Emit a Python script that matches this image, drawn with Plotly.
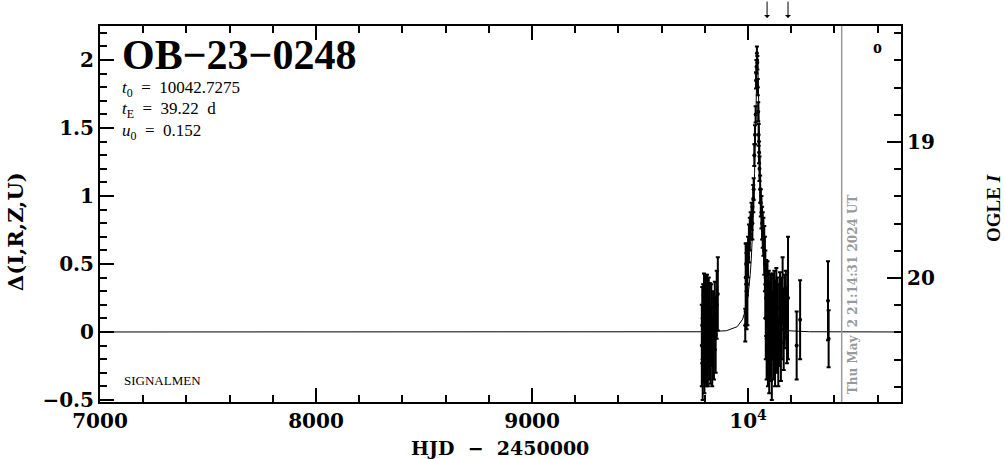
import plotly.graph_objects as go

# ---------------- data ----------------
event_name = "OB−23−0248"
t0_text = "10042.7275"
tE_text = "39.22 d"
u0_text = "0.152"
now_text = "Thu May&nbsp;&nbsp;2 21:14:31 2024 UT"
now_hjd = 10433.4
arrow_hjd = [10088, 10185]
legend_o_hjd = 10597
legend_o_delta = 2.095

obs_t = [9786, 9788, 9790, 9792, 9794, 9796, 9798, 9800, 9802, 9804, 9806, 9808, 9810, 9812,
         9814, 9816, 9818, 9820, 9823, 9826, 9830, 9834, 9838, 9842, 9846, 9850, 9855, 9860,
         9987, 9989, 9991, 9993, 9995, 9997, 10000, 10004, 10008, 10012, 10016, 10020, 10024,
         10026, 10029, 10032, 10035, 10037, 10039, 10041, 10043, 10045, 10047, 10049, 10051,
         10053, 10056, 10059, 10062, 10065, 10068, 10071, 10075, 10078,
         10080, 10082, 10084, 10086, 10088, 10090, 10092, 10094, 10096, 10098, 10100, 10102,
         10104, 10106, 10108, 10110, 10113, 10116, 10119, 10122, 10125, 10128, 10131, 10134,
         10137, 10140, 10144, 10148, 10152, 10156, 10160, 10165, 10170, 10175, 10180,
         10185, 10225, 10241, 10370, 10373]
obs_d = [-0.10, 0.05, -0.20, 0.10, -0.05, 0.15, -0.15, 0.02, 0.20, -0.08, 0.08, -0.12, 0.12, 0.00,
         -0.18, 0.05, 0.15, -0.05, 0.10, -0.10, 0.05, -0.15, 0.08, -0.05, 0.12, -0.02, 0.20, 0.28,
         0.05, 0.40, 0.50, 0.30, 0.45, 0.35, 0.55, 0.65, 0.72, 0.78, 0.85, 0.80, 0.98,
         1.05, 1.30, 1.45, 1.60, 1.85, 1.95, 2.05, 1.98, 1.80, 1.62, 1.45, 1.32,
         1.20, 1.05, 0.95, 0.88, 0.80, 0.75, 0.70, 0.60, 0.50,
         0.35, 0.10, 0.25, -0.05, 0.15, 0.30, -0.10, 0.05, 0.20, -0.15, 0.10, 0.00,
         0.18, -0.08, 0.12, -0.20, 0.05, 0.15, -0.05, 0.20, -0.12, 0.08, 0.25, -0.02,
         0.10, -0.15, 0.05, 0.18, -0.08, 0.10, 0.30, 0.02, 0.15, 0.20, 0.05,
         0.25, -0.10, 0.09, 0.23, -0.05]
obs_e = [0.30, 0.28, 0.30, 0.25, 0.32, 0.28, 0.30, 0.25, 0.22, 0.30, 0.26, 0.28, 0.30, 0.25,
         0.22, 0.28, 0.25, 0.30, 0.26, 0.28, 0.30, 0.25, 0.22, 0.30, 0.25, 0.28, 0.25, 0.27,
         0.12, 0.25, 0.15, 0.28, 0.18, 0.30, 0.15, 0.14, 0.12, 0.10, 0.10, 0.12, 0.10,
         0.08, 0.08, 0.07, 0.06, 0.06, 0.05, 0.05, 0.05, 0.06, 0.07, 0.08, 0.08,
         0.09, 0.10, 0.10, 0.12, 0.12, 0.13, 0.14, 0.18, 0.20,
         0.25, 0.30, 0.28, 0.30, 0.25, 0.22, 0.30, 0.28, 0.25, 0.30, 0.27, 0.30,
         0.25, 0.28, 0.30, 0.30, 0.25, 0.28, 0.30, 0.25, 0.28, 0.30, 0.22, 0.28,
         0.30, 0.25, 0.30, 0.26, 0.28, 0.30, 0.25, 0.30, 0.27, 0.25, 0.28,
         0.45, 0.25, 0.29, 0.29, 0.21]

model_t = [7000, 9800, 9900, 9950, 9975, 9990, 10000, 10005, 10010, 10015, 10020, 10025, 10030,
           10035, 10038, 10040, 10042.73, 10045.46, 10047.46, 10050.46, 10055.46, 10060.46,
           10065.46, 10070.46, 10075.46, 10080.46, 10085.46, 10095.46, 10110.46, 10135.46,
           10185.46, 10285, 10705]
model_d = [0, 0.0015, 0.009, 0.039, 0.094, 0.173, 0.267, 0.335, 0.423, 0.538, 0.689, 0.891, 1.165,
           1.535, 1.795, 1.953, 2.055, 1.953, 1.795, 1.535, 1.165, 0.891,
           0.689, 0.538, 0.423, 0.335, 0.267, 0.173, 0.094, 0.039,
           0.009, 0.0015, 0]

x_range = [7000, 10708]
y_range = [-0.515, 2.25]
ogle_base = 20.397
x_tickvals = [7000, 8000, 9000, 10000]
x_ticktext = ["7000", "8000", "9000", "10<sup>4</sup>"]
y_tickvals = [-0.5, 0, 0.5, 1, 1.5, 2]
y_ticktext = ["−0.5", "0", "0.5", "1", "1.5", "2"]
y2_tickvals = [19, 20]

SERIF = "Liberation Serif"
DSERIF = "DejaVu Serif"
ML, MR, MT, MB = 100, 103, 26, 57
W, H = 1004, 459
PW, PH = W - ML - MR, H - MT - MB


def px_to_paper(xp, yp):
    return (xp - ML) / PW, (H - MB - yp) / PH


fig = go.Figure()
fig.add_trace(go.Scatter(x=model_t, y=model_d, mode="lines",
                         line=dict(color="black", width=1), showlegend=False))
fig.add_trace(go.Scatter(x=obs_t, y=obs_d, mode="markers",
                         marker=dict(color="black", size=4),
                         error_y=dict(type="data", array=obs_e, color="black",
                                      thickness=2, width=2),
                         showlegend=False))
# invisible trace to activate right axis
fig.add_trace(go.Scatter(x=[x_range[0]], y=[ogle_base], yaxis="y2", mode="markers",
                         marker=dict(opacity=0), showlegend=False, hoverinfo="skip"))

fig.add_shape(type="line", xref="x", yref="paper", x0=now_hjd, x1=now_hjd, y0=0, y1=1,
              line=dict(color="#999999", width=1.5))

tickfont = dict(family=DSERIF, size=20, color="black", weight="bold")

fig.update_layout(
    width=W, height=H,
    margin=dict(l=ML, r=MR, t=MT, b=MB, autoexpand=False),
    plot_bgcolor="white", paper_bgcolor="white",
    xaxis=dict(range=x_range, showgrid=False, zeroline=False, showline=True,
               automargin=False,
               linecolor="black", linewidth=2, mirror="ticks",
               ticks="inside", ticklen=14, tickwidth=2, tickcolor="black",
               tickvals=x_tickvals, ticktext=x_ticktext, tickfont=tickfont,
               minor=dict(dtick=200, tick0=7000, ticks="inside", ticklen=7,
                          tickwidth=2, tickcolor="black")),
    yaxis=dict(range=y_range, showgrid=False, zeroline=False, showline=True,
               automargin=False,
               linecolor="black", linewidth=2,
               ticks="inside", ticklen=14, tickwidth=2, tickcolor="black",
               tickvals=y_tickvals, ticktext=y_ticktext, tickfont=tickfont,
               minor=dict(dtick=0.1, tick0=0, ticks="inside", ticklen=7,
                          tickwidth=2, tickcolor="black")),
    yaxis2=dict(overlaying="y", side="right",
                range=[ogle_base - y_range[0], ogle_base - y_range[1]],
                automargin=False,
                showgrid=False, zeroline=False, showline=True,
                linecolor="black", linewidth=2,
                ticks="inside", ticklen=14, tickwidth=2, tickcolor="black",
                tickvals=y2_tickvals, tickfont=tickfont,
                minor=dict(dtick=0.2, tick0=19, ticks="inside", ticklen=7,
                           tickwidth=2, tickcolor="black")),
)

ann = []
ann.append(dict(x=7092, y=2.04, xref="x", yref="y", xanchor="left", yanchor="middle",
                text=event_name, showarrow=False,
                font=dict(family=SERIF, size=42, color="black", weight="bold")))
stat_font = dict(family=SERIF, size=17, color="black")
ann.append(dict(x=7092, y=1.79, xref="x", yref="y", xanchor="left", yanchor="middle",
                text="<i>t</i><sub>0</sub>&nbsp;&nbsp;=&nbsp;&nbsp;" + t0_text,
                showarrow=False, font=stat_font))
ann.append(dict(x=7092, y=1.63, xref="x", yref="y", xanchor="left", yanchor="middle",
                text="<i>t</i><sub>E</sub>&nbsp;&nbsp;=&nbsp;&nbsp;" + tE_text.replace(" ", "&nbsp;&nbsp;"),
                showarrow=False, font=stat_font))
ann.append(dict(x=7092, y=1.47, xref="x", yref="y", xanchor="left", yanchor="middle",
                text="<i>u</i><sub>0</sub>&nbsp;&nbsp;=&nbsp;&nbsp;" + u0_text,
                showarrow=False, font=stat_font))
ann.append(dict(x=7102, y=-0.355, xref="x", yref="y", xanchor="left", yanchor="middle",
                text="SIGNALMEN", showarrow=False,
                font=dict(family=SERIF, size=13, color="black")))
ann.append(dict(x=now_hjd + 12, y=-0.47, xref="x", yref="y", xanchor="left", yanchor="bottom",
                text=now_text, textangle=-90, showarrow=False,
                font=dict(family=DSERIF, size=12, color="#999999", weight="bold")))
ann.append(dict(x=legend_o_hjd, y=legend_o_delta, xref="x", yref="y",
                xanchor="center", yanchor="middle", text="o", showarrow=False,
                font=dict(family=SERIF, size=18, color="black", weight="bold")))
for ah in arrow_hjd:
    ann.append(dict(x=ah, y=1.021, xref="x", yref="paper", ax=0, ay=-18, text="",
                    showarrow=True, arrowhead=1, arrowsize=1, arrowwidth=1,
                    arrowcolor="black"))

# axis titles
xt, yt = px_to_paper(500, 448)
ann.append(dict(x=xt, y=yt, xref="paper", yref="paper", xanchor="center", yanchor="middle",
                text="HJD&nbsp;&nbsp;−&nbsp;&nbsp;2450000", showarrow=False,
                font=dict(family=DSERIF, size=19, color="black", weight="bold")))
xl, yl = px_to_paper(15, 232)
ann.append(dict(x=xl, y=yl, xref="paper", yref="paper", xanchor="center", yanchor="middle",
                text="Δ(I,R,Z,U)", showarrow=False, textangle=-90,
                font=dict(family=DSERIF, size=21, color="black", weight="bold")))
xr, yr = px_to_paper(993, 208)
ann.append(dict(x=xr, y=yr, xref="paper", yref="paper", xanchor="center", yanchor="middle",
                text="OGLE <i>I</i>", showarrow=False, textangle=-90,
                font=dict(family=SERIF, size=19, color="black", weight="bold")))
fig.update_layout(annotations=ann)

fig.write_html("out.html", post_script="document.body.style.margin='0';",
               config={"displayModeBar": False})
